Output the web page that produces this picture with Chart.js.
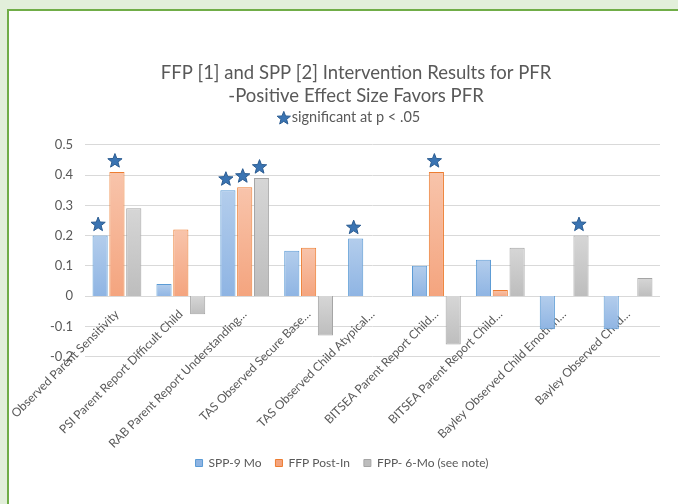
<!DOCTYPE html>
<html>
<head>
<meta charset="utf-8">
<script src="https://cdn.jsdelivr.net/npm/chart.js@4.4.1/dist/chart.umd.min.js"></script>
<style>
  html, body { margin: 0; padding: 0; width: 678px; height: 504px; overflow: hidden; background: #e2efda; }
  #frame { position: absolute; left: 7px; top: 9px; width: 700px; height: 500px;
           border-left: 2px solid #70ad47; border-top: 2px solid #70ad47; background: #fff; }
  #wrap { position: absolute; left: 0; top: 0; width: 681px; height: 493px; }
</style>
</head>
<body>
<div id="frame"><div id="wrap"><canvas id="myChart"></canvas></div></div>
<script>
// categories (Excel truncated the long ones)
const labels = [
  "Observed Parent Sensitivity",
  "PSI Parent Report Difficult Child",
  "RAB Parent Report Understanding…",
  "TAS Observed Secure Base…",
  "TAS Observed Child Atypical…",
  "BITSEA Parent Report Child…",
  "BITSEA Parent Report Child…",
  "Bayley Observed Child Emotion…",
  "Bayley Observed Child…"
];

// effect sizes
const spp9 = [0.20, 0.04, 0.35, 0.15, 0.19, 0.10, 0.12, -0.11, -0.11];
const ffpPost = [0.41, 0.22, 0.36, 0.16, null, 0.41, 0.02, null, null];
const fpp6 = [0.29, -0.06, 0.39, -0.13, null, -0.16, 0.16, 0.20, 0.06];

// significant at p < .05 (star over the bar)
const sigSpp9 = [1, 0, 1, 0, 1, 0, 0, 0, 0];
const sigFfpPost = [1, 0, 1, 0, 0, 1, 0, 0, 0];
const sigFpp6 = [0, 0, 1, 0, 0, 0, 0, 1, 0];

const yTicks = ["-0.2", "-0.1", "0", "0.1", "0.2", "0.3", "0.4", "0.5"];

const SUBTITLE = "significant at p < .05";
const FONT = "Lato, 'Open Sans', sans-serif";
const TXT = "#595959";

// vertical gradient per bar, light on top
function barFill(light, dark) {
  return function (c) {
    const chart = c.chart;
    const y = chart.scales.y;
    if (!chart.chartArea || !y || !c.parsed || c.parsed.y == null) return dark;
    const p0 = y.getPixelForValue(0);
    const p1 = y.getPixelForValue(c.parsed.y);
    const g = chart.ctx.createLinearGradient(0, Math.min(p0, p1), 0, Math.max(p0, p1) + 1);
    g.addColorStop(0, light);
    g.addColorStop(1, dark);
    return g;
  };
}

function drawStar(ctx, cx, cy, R, r) {
  ctx.save();
  ctx.beginPath();
  for (let i = 0; i < 10; i++) {
    const rad = i % 2 === 0 ? R : r;
    const a = -Math.PI / 2 + i * Math.PI / 5;
    const x = cx + rad * Math.cos(a), y = cy + rad * Math.sin(a);
    if (i === 0) ctx.moveTo(x, y); else ctx.lineTo(x, y);
  }
  ctx.closePath();
  ctx.fillStyle = "#3a74b3";
  ctx.fill();
  ctx.lineWidth = 1;
  ctx.strokeStyle = "#2b5c91";
  ctx.stroke();
  ctx.restore();
}

function centerBox(box, cx) {
  const w = box.right - box.left;
  box.left = cx - w / 2;
  box.right = cx + w / 2;
}

const starPlugin = {
  id: "stars",
  afterLayout(chart) {
    // Excel centres title and legend a little differently
    if (chart.titleBlock) centerBox(chart.titleBlock, 347);
    const st = chart.boxes.find(b => b.options && b.options.text === SUBTITLE);
    if (st) centerBox(st, 347);
    if (chart.legend) centerBox(chart.legend, 333);
  },
  afterDraw(chart) {
    const ctx = chart.ctx;
    const flags = [sigSpp9, sigFfpPost, sigFpp6];
    flags.forEach((f, i) => {
      const meta = chart.getDatasetMeta(i);
      f.forEach((on, j) => {
        if (!on) return;
        const bar = meta.data[j];
        drawStar(ctx, bar.x - 2, bar.y - 11, 7.5, 3.2);
      });
    });
    // star in front of the subtitle
    const st = chart.boxes.find(b => b.options && b.options.text === SUBTITLE);
    if (st) {
      ctx.save();
      ctx.font = "14.5px " + FONT;
      const w = ctx.measureText(SUBTITLE).width;
      const cx = (st.left + st.right) / 2;
      drawStar(ctx, cx - w / 2 - 8, st.top + 2 + 8.5, 7, 3);
      ctx.restore();
    }
  }
};

const ctx = document.getElementById("myChart");

new Chart(ctx, {
  type: "bar",
  data: {
    labels: labels,
    datasets: [
      {
        label: "SPP-9 Mo",
        data: spp9,
        backgroundColor: barFill("#b3cdec", "#8eb4e3"),
        borderColor: "#5b9bd5",
        borderWidth: 1,
      },
      {
        label: "FFP Post-In",
        data: ffpPost,
        backgroundColor: barFill("#f8c4ab", "#f4a47e"),
        borderColor: "#ed7d31",
        borderWidth: 1,
      },
      {
        label: "FPP- 6-Mo (see note)",
        data: fpp6,
        backgroundColor: barFill("#d6d6d6", "#bdbdbd"),
        borderColor: "#a5a5a5",
        borderWidth: 1,
      },
    ],
  },
  plugins: [starPlugin],
  options: {
    responsive: true,
    maintainAspectRatio: false,
    animation: false,
    categoryPercentage: 0.79,
    barPercentage: 0.9,
    layout: { padding: { left: 30, right: 30, top: 0, bottom: 25 } },
    plugins: {
      title: {
        display: true,
        text: ["FFP [1] and SPP [2] Intervention Results for PFR", "-Positive Effect Size Favors PFR"],
        color: TXT,
        font: { family: FONT, size: 18.5, weight: "normal", lineHeight: 1.24 },
        padding: { top: 51, bottom: 0 },
      },
      subtitle: {
        display: true,
        text: SUBTITLE,
        color: TXT,
        font: { family: FONT, size: 14.5, weight: "normal", lineHeight: 1.1 },
        padding: { top: 1, bottom: 20 },
      },
      legend: {
        position: "bottom",
        title: { display: true, text: "", padding: { top: 72, bottom: 0 } },
        labels: {
          color: TXT,
          font: { family: FONT, size: 12 },
          boxWidth: 7,
          boxHeight: 7,
          padding: 14,
        },
      },
      tooltip: { enabled: false },
    },
    scales: {
      x: {
        position: { y: 0 },
        grid: { display: false },
        border: { display: false },
        ticks: {
          color: TXT,
          font: { family: FONT, size: 12 },
          minRotation: 45,
          maxRotation: 45,
          autoSkip: false,
          padding: 3,
        },
        // let the long first label hang out to the left like Excel does
        afterFit(scale) { scale.paddingLeft = 0; scale.paddingRight = 0; },
      },
      y: {
        min: -0.2,
        max: 0.5,
        grid: { color: "#d9d9d9", drawTicks: false },
        border: { display: false },
        ticks: {
          stepSize: 0.1,
          color: TXT,
          font: { family: FONT, size: 13 },
          padding: 12,
          callback: (v, i) => yTicks[i],
        },
        afterFit(scale) { scale.width = 46; },
      },
    },
  },
});
</script>
</body>
</html>
